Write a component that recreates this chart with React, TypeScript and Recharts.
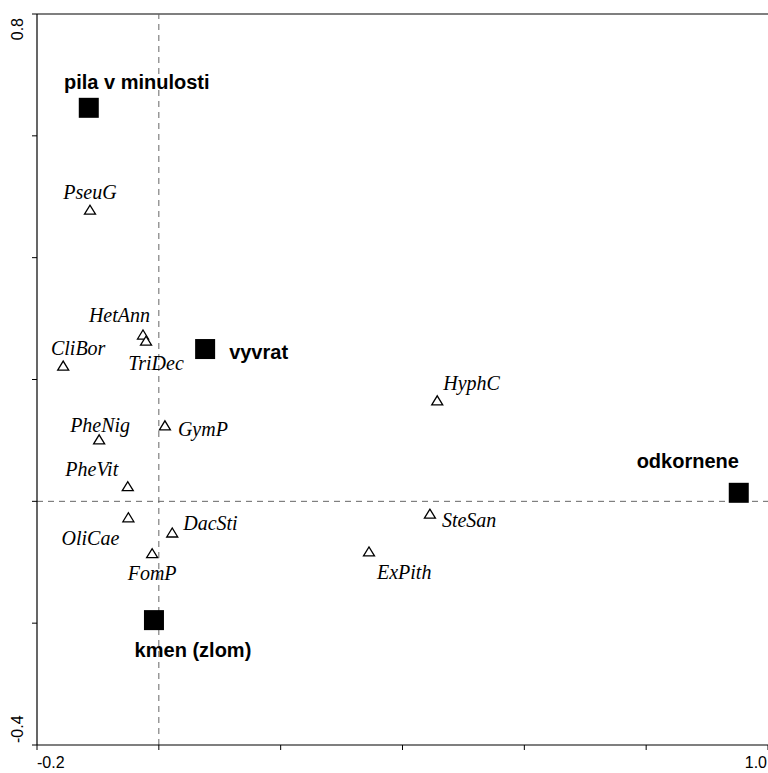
import { ScatterChart, Scatter, XAxis, YAxis, ReferenceLine } from "recharts";

// environmental variables (centroids)
const envNames = ["pila v minulosti", "vyvrat", "odkornene", "kmen (zlom)"];
const envX = [-0.115, 0.076, 0.952, -0.008];
const envY = [0.646, 0.25, 0.014, -0.195];

// species scores
const spNames = [
  "PseuG", "HetAnn", "TriDec", "CliBor", "HyphC", "PheNig", "GymP",
  "PheVit", "OliCae", "DacSti", "FomP", "SteSan", "ExPith",
];
const spX = [-0.113, -0.026, -0.021, -0.157, 0.457, -0.098, 0.01, -0.051, -0.05, 0.022, -0.011, 0.445, 0.345];
const spY = [0.478, 0.273, 0.263, 0.222, 0.165, 0.101, 0.124, 0.024, -0.027, -0.052, -0.086, -0.021, -0.083];

const xTicks = [-0.2, 0, 0.2, 0.4, 0.6, 0.8, 1.0];
const yTicks = [-0.4, -0.2, 0, 0.2, 0.4, 0.6, 0.8];

// label placement: [dx, dy, anchor]
const LABEL_POS: Record<string, [number, number, "start" | "middle" | "end"]> = {
  "pila v minulosti": [48, -19, "middle"],
  vyvrat: [24, 10, "start"],
  odkornene: [-51, -25, "middle"],
  "kmen (zlom)": [39, 37, "middle"],
  PseuG: [0, -11, "middle"],
  HetAnn: [7, -13, "end"],
  TriDec: [10, 29, "middle"],
  CliBor: [15, -11, "middle"],
  HyphC: [6, -11, "start"],
  PheNig: [1, -8, "middle"],
  GymP: [13, 10, "start"],
  PheVit: [-36, -11, "middle"],
  OliCae: [-38, 27, "middle"],
  DacSti: [11, -3, "start"],
  FomP: [0, 26, "middle"],
  SteSan: [12, 13, "start"],
  ExPith: [8, 27, "start"],
};

const envData = envNames.map((name, i) => ({ name, x: envX[i], y: envY[i] }));
const spData = spNames.map((name, i) => ({ name, x: spX[i], y: spY[i] }));

function EnvShape(props: any) {
  const { cx, cy, payload } = props;
  const [dx, dy, anchor] = LABEL_POS[payload.name] ?? [0, -14, "middle"];
  return (
    <g>
      <rect x={cx - 10} y={cy - 10} width={20} height={20} fill="#000" />
      <text
        x={cx + dx}
        y={cy + dy}
        textAnchor={anchor}
        fontFamily="Liberation Sans, Arial, sans-serif"
        fontWeight="bold"
        fontSize={20}
        fill="#000"
      >
        {payload.name}
      </text>
    </g>
  );
}

function SpShape(props: any) {
  const { cx, cy, payload } = props;
  const [dx, dy, anchor] = LABEL_POS[payload.name] ?? [0, -12, "middle"];
  const pts = `${cx - 5.5},${cy + 4} ${cx + 5.5},${cy + 4} ${cx},${cy - 5}`;
  return (
    <g>
      <polygon points={pts} fill="#fff" stroke="#000" strokeWidth={1.3} />
      <text
        x={cx + dx}
        y={cy + dy}
        textAnchor={anchor}
        fontFamily="Liberation Serif, Times New Roman, serif"
        fontStyle="italic"
        fontSize={20}
        fill="#000"
      >
        {payload.name}
      </text>
    </g>
  );
}

function XTick(props: any) {
  const { x, y, index } = props;
  if (index !== 0 && index !== xTicks.length - 1) return null;
  const first = index === 0;
  return (
    <text
      x={first ? x : x - 1}
      y={y + 16}
      textAnchor={first ? "start" : "end"}
      fontFamily="Liberation Sans, Arial, sans-serif"
      fontSize={16}
      fill="#000"
    >
      {first ? "-0.2" : "1.0"}
    </text>
  );
}

function YTick(props: any) {
  const { y, index } = props;
  if (index !== 0 && index !== yTicks.length - 1) return null;
  const bottom = index === 0;
  const ty = bottom ? y - 2 : y + 4;
  const tx = 23;
  return (
    <text
      x={tx}
      y={ty}
      transform={`rotate(-90, ${tx}, ${ty})`}
      textAnchor={bottom ? "start" : "end"}
      fontFamily="Liberation Sans, Arial, sans-serif"
      fontSize={16}
      fill="#000"
    >
      {bottom ? "-0.4" : "0.8"}
    </text>
  );
}

export default function App() {
  return (
    <div style={{ width: 768, height: 773, overflow: "hidden", background: "#fff" }}>
      <style>{"body{margin:0}"}</style>
      <ScatterChart width={768} height={773} margin={{ top: 14, right: 0, bottom: 0, left: 0 }}>
        <XAxis
          type="number"
          dataKey="x"
          domain={[-0.2, 1.0]}
          ticks={xTicks}
          interval={0}
          height={28}
          axisLine={{ stroke: "#000", strokeWidth: 1.2 }}
          tickLine={{ stroke: "#000" }}
          tickSize={5}
          tick={<XTick />}
          allowDataOverflow
        />
        <YAxis
          type="number"
          dataKey="y"
          domain={[-0.4, 0.8]}
          ticks={yTicks}
          interval={0}
          width={37}
          axisLine={{ stroke: "#000", strokeWidth: 1.2 }}
          tickLine={{ stroke: "#000" }}
          tickSize={5}
          tick={<YTick />}
          allowDataOverflow
        />
        <ReferenceLine y={0.8} stroke="#000" strokeWidth={1.2} />
        <ReferenceLine x={0} stroke="#666" strokeDasharray="6 5" />
        <ReferenceLine y={0} stroke="#666" strokeDasharray="6 5" />
        <Scatter data={spData} shape={<SpShape />} isAnimationActive={false} />
        <Scatter data={envData} shape={<EnvShape />} isAnimationActive={false} />
      </ScatterChart>
    </div>
  );
}
